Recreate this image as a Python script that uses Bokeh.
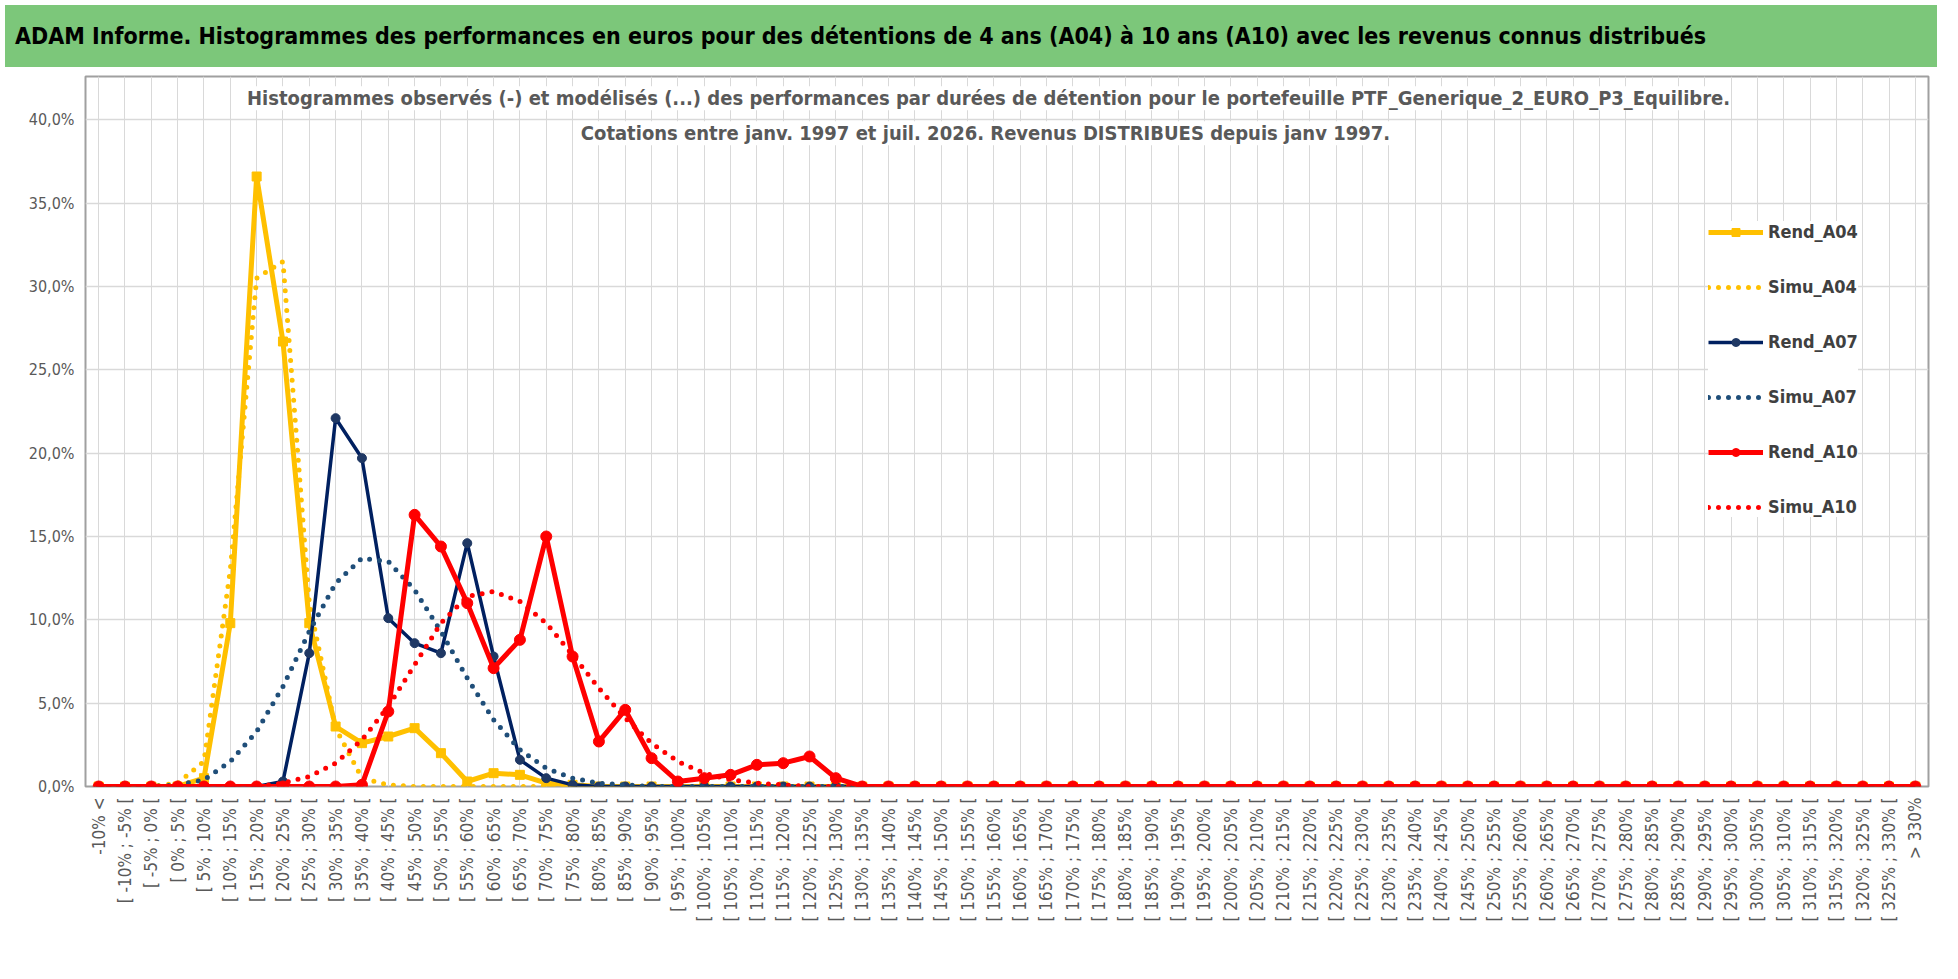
import math
from bokeh.plotting import figure
from bokeh.models import Div, Label, CustomJSTickFormatter, Legend, LegendItem
from bokeh.layouts import column
from bokeh.embed import file_html
from bokeh.resources import INLINE

cats = ["-10% <"] + [f"[ {a}% ; {a+5}% [" for a in range(-10, 330, 5)] + ["> 330%"]
N = len(cats)

def pad(vals):
    return vals + [0.0] * (N - len(vals))

rend_a04 = pad([0, 0, 0, 0, 0.5, 9.8, 36.6, 26.7, 9.8, 3.6, 2.6, 3.0, 3.5, 2.0, 0.3, 0.8, 0.7, 0.2, 0.1])
simu_a04 = pad([0, 0, 0, 0.2, 1.5, 13.0, 30.5, 31.5, 11.0, 3.5, 0.5, 0.1])
rend_a07 = pad([0, 0, 0, 0, 0, 0, 0, 0.3, 8.0, 22.1, 19.7, 10.1, 8.6, 8.0, 14.6, 7.8, 1.6, 0.5, 0.1])
simu_a07 = pad([0, 0, 0, 0.1, 0.4, 1.5, 3.3, 6.0, 9.3, 12.2, 13.7, 13.5, 11.8, 9.3, 6.5, 4.0, 2.2, 1.1, 0.5, 0.2, 0.1])
rend_a10 = pad([0, 0, 0, 0, 0, 0, 0, 0, 0, 0, 0.1, 4.5, 16.3, 14.4, 11.0, 7.1, 8.8, 15.0, 7.8, 2.7, 4.6, 1.7, 0.3, 0.5, 0.7, 1.3, 1.4, 1.8, 0.5])
simu_a10 = pad([0, 0, 0, 0, 0, 0, 0, 0.2, 0.6, 1.4, 2.8, 4.8, 7.3, 9.8, 11.4, 11.7, 11.1, 9.8, 7.9, 5.9, 4.1, 2.6, 1.5, 0.8, 0.4, 0.2, 0.1])

FONT = "DejaVu Sans Condensed"

banner = Div(text="ADAM Informe. Histogrammes des performances en euros pour des détentions de 4 ans (A04) à 10 ans (A10) avec les revenus connus distribués",
             width=1942, height=62,
             styles={"background-color": "#7CC77A", "font-family": FONT, "font-weight": "bold",
                     "font-size": "23px", "color": "black", "padding-left": "10px",
                     "line-height": "62px", "width": "1932px", "white-space": "nowrap", "overflow": "hidden"})

p = figure(x_range=cats, y_range=(0, 42.6), width=1942, height=852,
           output_backend="svg", toolbar_location=None,
           min_border_top=4, min_border_left=85, min_border_right=14, min_border_bottom=10)
p.outline_line_color = "#A0A0A0"
p.outline_line_width = 2
p.xgrid.grid_line_color = "#D9D9D9"
p.ygrid.grid_line_color = "#D9D9D9"
p.ygrid.grid_line_width = 1.5
p.yaxis.ticker = [0, 5, 10, 15, 20, 25, 30, 35, 40]
p.yaxis.formatter = CustomJSTickFormatter(code="return tick.toFixed(1).replace('.', ',') + '%';")
for ax in (p.xaxis, p.yaxis):
    ax.axis_line_color = None
    ax.major_tick_line_color = None
    ax.minor_tick_line_color = None
    ax.major_label_text_color = "#595959"
    ax.major_label_text_font = FONT
    ax.major_label_text_font_size = "16px"
p.xaxis.major_label_orientation = math.pi / 2
p.xaxis.major_label_text_font_size = "17px"

items = []
r = p.line(cats, rend_a04, line_color="#FFC000", line_width=5)
m = p.scatter(cats, rend_a04, marker="square", size=9, color="#FFC000")
items.append(LegendItem(label="Rend_A04", renderers=[r, m]))
r = p.line(cats, simu_a04, line_color="#FFC000", line_width=5, line_dash="0 10", line_cap="round")
items.append(LegendItem(label="Simu_A04", renderers=[r]))
r = p.line(cats, rend_a07, line_color="#002060", line_width=3.5)
m = p.scatter(cats, rend_a07, marker="circle", size=9, color="#1F3864")
items.append(LegendItem(label="Rend_A07", renderers=[r, m]))
r = p.line(cats, simu_a07, line_color="#1F4E79", line_width=5, line_dash="0 10", line_cap="round")
items.append(LegendItem(label="Simu_A07", renderers=[r]))
r = p.line(cats, rend_a10, line_color="#FF0000", line_width=5)
m = p.scatter(cats, rend_a10, marker="circle", size=11, color="#FF0000")
items.append(LegendItem(label="Rend_A10", renderers=[r, m]))
r = p.line(cats, simu_a10, line_color="#FF0000", line_width=5, line_dash="0 10", line_cap="round")
items.append(LegendItem(label="Simu_A10", renderers=[r]))

leg = Legend(items=items, location=(1623, 269), spacing=34, glyph_width=55,
             label_text_font=FONT, label_text_font_style="bold", label_text_font_size="18px",
             label_text_color="#404040", border_line_color=None, background_fill_alpha=1,
             padding=20, margin=0)
p.add_layout(leg, "center")

xc = N * 0.49
for txt, yv in [("Histogrammes observés (-) et modélisés (...) des performances par durées de détention pour le portefeuille PTF_Generique_2_EURO_P3_Equilibre.", 41.3),
                ("Cotations  entre janv. 1997 et juil. 2026. Revenus DISTRIBUES depuis janv 1997.", 39.2)]:
    p.add_layout(Label(x=xc, y=yv, text=txt, text_align="center", text_baseline="middle",
                       text_font=FONT, text_font_style="bold", text_font_size="20px",
                       text_color="#595959", background_fill_color="white",
                       background_fill_alpha=1))

page = column(banner, p)
open("out.html", "w").write(file_html(page, INLINE))
